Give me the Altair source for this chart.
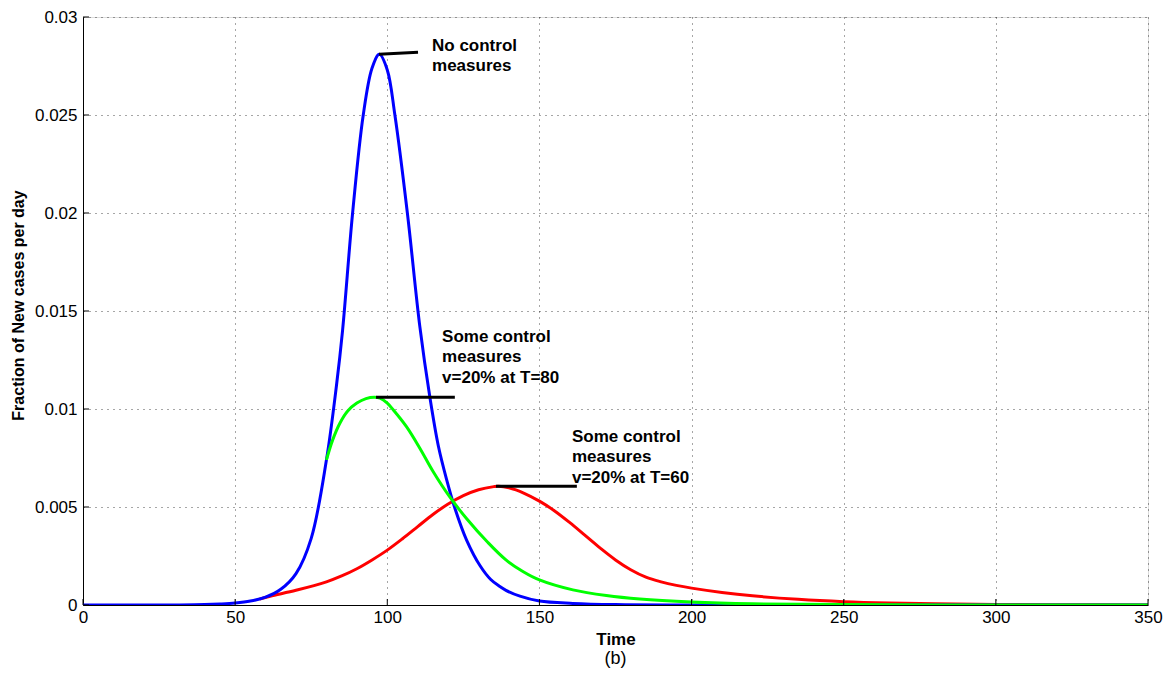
import altair as alt
import pandas as pd

# ---- data ----
blue_t = [0, 30, 40, 45, 50, 55, 60, 65, 70, 75, 80, 83.3, 85.3, 88.6, 92.1, 95, 97.4, 100, 102.5, 106.6,
          110.7, 114, 116.8, 119.5, 122.3, 126.1, 130.5, 134, 137, 139, 143.6, 150, 161, 175, 200, 350]
blue_v = [0, 0.000005, 0.00002, 0.00005, 0.0001, 0.0002, 0.0004, 0.0008, 0.0016, 0.0034, 0.0074, 0.0112,
          0.0140, 0.0200, 0.0250, 0.0274, 0.0281, 0.0273, 0.0250, 0.0200, 0.0142, 0.0106, 0.0081, 0.0064,
          0.0049, 0.0033, 0.00200, 0.0013, 0.00094, 0.00075, 0.00045, 0.0002, 0.00008, 0.00002, 0, 0]

green_t = [80, 82, 84.5, 87, 90, 93, 95.8, 97.6, 100, 102, 106.3, 110.7, 115.1, 120.6, 126.1, 133, 139,
           144.7, 150, 161, 172, 183, 200, 220, 250, 300, 350]
green_v = [0.0074, 0.0084, 0.0093, 0.0099, 0.0103, 0.01053, 0.0106, 0.01055, 0.0103, 0.00995, 0.0091,
           0.0080, 0.0068, 0.0055, 0.0044, 0.0032, 0.0023, 0.0017, 0.00128, 0.00077, 0.00048, 0.0003,
           0.00015, 0.00006, 0.00002, 0, 0]

red_t = [58, 61.5, 70, 80, 85, 90, 95, 100, 105, 110, 115, 120, 125, 130, 135, 136.5, 140, 145, 150, 155,
         160, 165, 170, 175, 180, 185, 190, 195, 200, 210, 220, 235, 250, 265, 280, 300, 320, 350]
red_v = [0.0003, 0.00045, 0.00075, 0.00118, 0.00148, 0.00185, 0.0023, 0.0028, 0.00338, 0.0040, 0.00462,
         0.00515, 0.00558, 0.00588, 0.00604, 0.00606, 0.00598, 0.0057, 0.0053, 0.0048, 0.0042, 0.00355,
         0.0029, 0.0023, 0.0018, 0.00142, 0.00118, 0.00100, 0.00086, 0.00064, 0.00047, 0.00029, 0.00017,
         0.0001, 0.00006, 0.00003, 0.000015, 0.000005]

# annotation pointer lines (start t, end t, start v, end v)
ptr_t1 = [97.3, 96.3, 135.7]
ptr_t2 = [110.1, 122.2, 162.3]
ptr_v1 = [0.0281, 0.0106, 0.00606]
ptr_v2 = [0.0282, 0.0106, 0.00606]

lab_t = [114.7, 118.0, 160.7]
lab_v = [0.02895, 0.0141, 0.0090]
lab_text = ["No control\nmeasures",
            "Some control\nmeasures\nv=20% at T=80",
            "Some control\nmeasures\nv=20% at T=60"]

x_ticks = [0, 50, 100, 150, 200, 250, 300, 350]
y_ticks = [0, 0.005, 0.01, 0.015, 0.02, 0.025, 0.03]

W, H = 1065, 588
FONT = "Liberation Sans"

xs = alt.Scale(domain=[0, 350], nice=False, zero=False)
ys = alt.Scale(domain=[0, 0.03], nice=False)

x_axis = alt.Axis(values=x_ticks, title="Time", titleFontWeight="bold", titleFontSize=17,
                  titlePadding=6, labelFontSize=17, labelPadding=4, ticks=False, labelFlush=False,
                  grid=True, gridDash=[1, 5], gridColor="#000", gridOpacity=0.7,
                  domainColor="#000", labelColor="#000", titleColor="#000", labelFont=FONT, titleFont=FONT)
y_axis = alt.Axis(values=y_ticks, title="Fraction of New cases per day", titleFontWeight="bold",
                  titleFontSize=16, format="~g", labelFontSize=17, labelPadding=6, ticks=False,
                  labelFlush=False,
                  grid=True, gridDash=[1, 5], gridColor="#000", gridOpacity=0.7,
                  domainColor="#000", labelColor="#000", titleColor="#000", labelFont=FONT, titleFont=FONT,
                  titleX=-65, titleY=H / 2 - 6, titleAngle=-90, titleAlign="center", titleBaseline="middle")


def line(t, v, color):
    df = pd.DataFrame({"t": t, "v": v})
    return alt.Chart(df).mark_line(color=color, strokeWidth=3, interpolate="catmull-rom", clip=True).encode(
        x=alt.X("t:Q", scale=xs, axis=x_axis),
        y=alt.Y("v:Q", scale=ys, axis=y_axis),
    )


red = line(red_t, red_v, "#ff0000")
blue = line(blue_t, blue_v, "#0000ff")
green = line(green_t, green_v, "#00ff00")

ptr_df = pd.DataFrame({"t1": ptr_t1, "t2": ptr_t2, "v1": ptr_v1, "v2": ptr_v2})
ptr = alt.Chart(ptr_df).mark_rule(color="#000", strokeWidth=3).encode(
    x=alt.X("t1:Q", scale=xs), x2="t2:Q", y=alt.Y("v1:Q", scale=ys), y2="v2:Q")

lab_df = pd.DataFrame({"t": lab_t, "v": lab_v, "txt": lab_text})
labels = alt.Chart(lab_df).mark_text(align="left", baseline="top", fontSize=17, fontWeight="bold",
                                      font=FONT, lineBreak="\n", lineHeight=20.5, color="#000").encode(
    x=alt.X("t:Q", scale=xs), y=alt.Y("v:Q", scale=ys), text="txt:N")

xt_df = pd.DataFrame({"t": x_ticks})
xticks = alt.Chart(xt_df).mark_rule(color="#000", strokeWidth=1).encode(
    x=alt.X("t:Q", scale=xs), y=alt.value(H), y2=alt.value(H - 6))
yt_df = pd.DataFrame({"v": y_ticks})
yticks = alt.Chart(yt_df).mark_rule(color="#000", strokeWidth=1).encode(
    y=alt.Y("v:Q", scale=ys), x=alt.value(0), x2=alt.value(6))

chart = alt.layer(red, blue, green, ptr, labels, xticks, yticks).properties(
    width=W, height=H,
    title=alt.TitleParams("(b)", orient="bottom", fontSize=18, fontWeight="normal", font=FONT,
                          color="#000", offset=3),
    autosize=alt.AutoSizeParams(type="none"),
    padding={"left": 75, "top": 9, "right": 16, "bottom": 70},
).configure_view(stroke=None).configure(background="white")

chart.save("out.html", embed_options={"renderer": "svg", "actions": False})
